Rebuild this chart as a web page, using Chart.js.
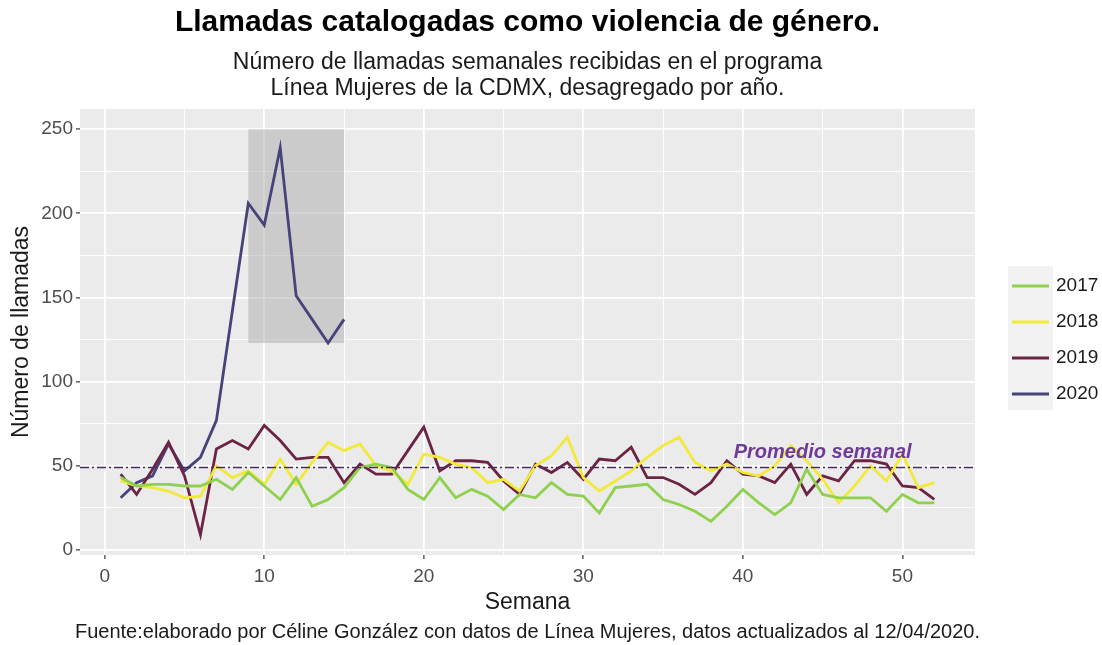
<!DOCTYPE html>
<html>
<head>
<meta charset="utf-8">
<script src="https://cdn.jsdelivr.net/npm/chart.js@4"></script>
<style>
  html, body { margin: 0; padding: 0; background: #fff; }
  #wrap { width: 1102px; height: 645px; }
</style>
</head>
<body>
<div id="wrap"><canvas id="llamadasChart" width="1102" height="645"></canvas></div>
<script>
// Semanas del año
var semanas = [1, 2, 3, 4, 5, 6, 7, 8, 9, 10, 11, 12, 13, 14, 15, 16, 17, 18, 19, 20, 21, 22, 23, 24, 25, 26,
               27, 28, 29, 30, 31, 32, 33, 34, 35, 36, 37, 38, 39, 40, 41, 42, 43, 44, 45, 46, 47, 48, 49, 50, 51, 52];

// Llamadas semanales por año
var llamadas2017 = [43, 38, 39, 39, 38, 38, 42, 36, 46, 38, 30, 43, 26, 30, 37, 49, 51, 49, 36, 30, 43, 31, 36, 32, 24, 33,
                    31, 40, 33, 32, 22, 37, 38, 39, 30, 27, 23, 17, 26, 36, 28, 21, 28, 48, 33, 31, 31, 31, 23, 33, 28, 28];
var llamadas2018 = [41, 38, 37, 35, 31, 32, 50, 43, 47, 39, 54, 39, 52, 64, 59, 63, 50, 47, 39, 57, 55, 51, 49, 40, 42, 35,
                    50, 56, 67, 43, 35, 41, 47, 55, 62, 67, 52, 47, 51, 46, 44, 50, 62, 53, 42, 28, 38, 50, 41, 57, 37, 40];
var llamadas2019 = [45, 33, 48, 64, 44, 9, 60, 65, 60, 74, 65, 54, 55, 55, 40, 51, 45, 45, 59, 73, 47, 53, 53, 52, 41, 33,
                    51, 46, 52, 42, 54, 53, 61, 43, 43, 39, 33, 40, 53, 45, 44, 40, 51, 33, 44, 41, 53, 53, 51, 38, 37, 30];
var llamadas2020 = [31, 40, 44, 63, 47, 55, 77, 142, 206, 193, 239, 151, 137, 123, 137];

var anios = ['2017', '2018', '2019', '2020'];
var colores = ['#8fd14f', '#f2ea3a', '#6b2444', '#45437a'];

// Promedio semanal y zona sombreada (semanas 9 a 15)
var promedio = 49;
var zona = { x0: 9, x1: 15, y0: 123, y1: 250 };
var etiquetaPromedio = { x: 45, y: 58, texto: 'Promedio semanal' };

var ticksX = [0, 10, 20, 30, 40, 50];
var ticksY = [0, 50, 100, 150, 200, 250];

var FONT = '"Liberation Sans", Arial, sans-serif';

function puntos(valores) {
    return valores.map(function (v, i) { return { x: semanas[i], y: v }; });
}

var series = [llamadas2017, llamadas2018, llamadas2019, llamadas2020];
var datasets = series.map(function (vals, i) {
    return {
        label: anios[i],
        data: puntos(vals),
        borderColor: colores[i],
        borderWidth: 2.8,
        pointRadius: 0,
        tension: 0,
        fill: false
    };
});

var ggplot = {
    id: 'ggplot',
    beforeDraw: function (chart) {
        var c = chart.ctx, a = chart.chartArea;
        c.save();
        c.fillStyle = '#ebebeb';
        c.fillRect(a.left, a.top, a.right - a.left, a.bottom - a.top);
        c.restore();
    },
    beforeDatasetsDraw: function (chart) {
        var c = chart.ctx, x = chart.scales.x, y = chart.scales.y;
        c.save();
        c.fillStyle = 'rgba(165,165,165,0.45)';
        var px0 = x.getPixelForValue(zona.x0), px1 = x.getPixelForValue(zona.x1);
        var py0 = y.getPixelForValue(zona.y1), py1 = y.getPixelForValue(zona.y0);
        c.fillRect(px0, py0, px1 - px0, py1 - py0);
        c.restore();
    },
    afterDatasetsDraw: function (chart) {
        var c = chart.ctx, a = chart.chartArea, x = chart.scales.x, y = chart.scales.y;
        c.save();
        // línea del promedio
        var py = y.getPixelForValue(promedio);
        c.strokeStyle = '#4a2b62';
        c.lineWidth = 1.3;
        c.setLineDash([9, 3, 2, 3]);
        c.beginPath();
        c.moveTo(a.left, py);
        c.lineTo(a.right, py);
        c.stroke();
        c.setLineDash([]);
        // etiqueta
        c.fillStyle = '#6e3b96';
        c.font = 'italic bold 20px ' + FONT;
        c.textAlign = 'center';
        c.textBaseline = 'middle';
        c.fillText(etiquetaPromedio.texto, x.getPixelForValue(etiquetaPromedio.x), y.getPixelForValue(etiquetaPromedio.y));
        c.restore();
    },
    afterDraw: function (chart) {
        var c = chart.ctx, a = chart.chartArea;
        var cx = (a.left + a.right) / 2;
        c.save();
        c.textAlign = 'center';
        c.textBaseline = 'middle';
        c.fillStyle = '#000';
        c.font = 'bold 30px ' + FONT;
        c.fillText('Llamadas catalogadas como violencia de género.', cx, 23);
        c.fillStyle = '#1a1a1a';
        c.font = '23px ' + FONT;
        c.fillText('Número de llamadas semanales recibidas en el programa', cx, 63);
        c.fillText('Línea Mujeres de la CDMX, desagregado por año.', cx, 89);
        // títulos de ejes
        c.font = '23px ' + FONT;
        c.fillText('Semana', cx, 603);
        c.save();
        c.translate(22, (a.top + a.bottom) / 2);
        c.rotate(-Math.PI / 2);
        c.fillText('Número de llamadas', 0, 0);
        c.restore();
        // fuente
        c.font = '20px ' + FONT;
        c.fillText('Fuente:elaborado por Céline González con datos de Línea Mujeres, datos actualizados al 12/04/2020.', cx, 632);
        // leyenda
        var lx = 1008, ly = 266, kh = 36;
        c.fillStyle = '#f2f2f2';
        c.fillRect(lx, ly, 45, kh * anios.length);
        chart.data.datasets.forEach(function (ds, i) {
            var yy = ly + kh * i + kh / 2 + 2;
            c.strokeStyle = ds.borderColor;
            c.lineWidth = 2.8;
            c.beginPath();
            c.moveTo(lx + 4, yy);
            c.lineTo(lx + 41, yy);
            c.stroke();
            c.fillStyle = '#1a1a1a';
            c.font = '19px ' + FONT;
            c.textAlign = 'left';
            c.fillText(ds.label, lx + 48, yy);
        });
        c.restore();
    }
};

var ctx = document.getElementById('llamadasChart').getContext('2d');
var chart = new Chart(ctx, {
    type: 'line',
    data: { datasets: datasets },
    options: {
        responsive: false,
        animation: false,
        layout: { padding: { left: 30, right: 127, top: 109, bottom: 60 } },
        plugins: { legend: { display: false }, tooltip: { enabled: false } },
        scales: {
            x: {
                type: 'linear',
                min: -1.55,
                max: 54.55,
                border: { display: false },
                grid: {
                    color: '#ffffff',
                    lineWidth: function (c) { return c.tick && ticksX.indexOf(c.tick.value) >= 0 ? 1.8 : 0.9; },
                    tickColor: function (c) { return c.tick && ticksX.indexOf(c.tick.value) >= 0 ? '#333333' : 'rgba(0,0,0,0)'; },
                    tickLength: 4,
                    tickWidth: 1.2
                },
                ticks: {
                    stepSize: 5,
                    includeBounds: false,
                    autoSkip: false,
                    maxRotation: 0,
                    padding: 6,
                    color: '#4d4d4d',
                    font: { family: FONT, size: 19 },
                    callback: function (v) { return ticksX.indexOf(v) >= 0 ? String(v) : ''; }
                },
                afterFit: function (s) { s.height = 30; }
            },
            y: {
                type: 'linear',
                min: -3,
                max: 262,
                border: { display: false },
                grid: {
                    color: '#ffffff',
                    lineWidth: function (c) { return c.tick && ticksY.indexOf(c.tick.value) >= 0 ? 1.8 : 0.9; },
                    tickColor: function (c) { return c.tick && ticksY.indexOf(c.tick.value) >= 0 ? '#333333' : 'rgba(0,0,0,0)'; },
                    tickLength: 4,
                    tickWidth: 1.2
                },
                ticks: {
                    stepSize: 25,
                    includeBounds: false,
                    autoSkip: false,
                    padding: 3,
                    color: '#4d4d4d',
                    font: { family: FONT, size: 19 },
                    callback: function (v) { return ticksY.indexOf(v) >= 0 ? String(v) : ''; }
                },
                afterFit: function (s) { s.width = 50; }
            }
        }
    },
    plugins: [ggplot]
});
</script>
</body>
</html>
